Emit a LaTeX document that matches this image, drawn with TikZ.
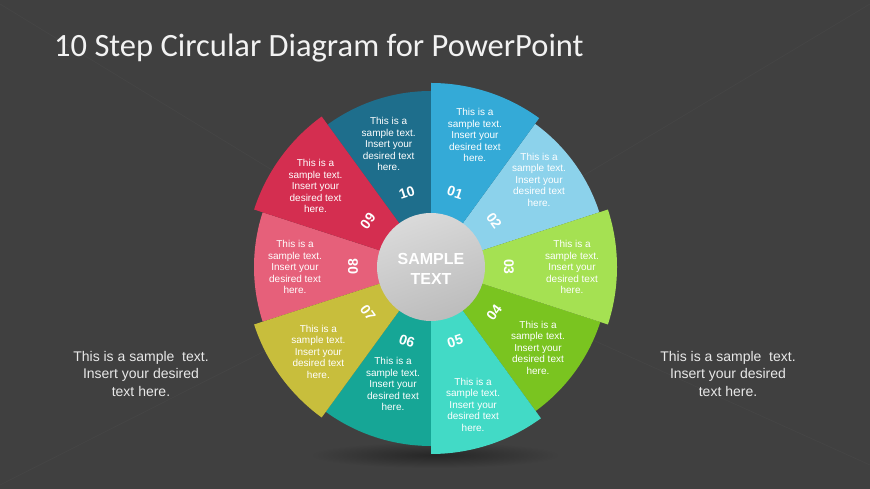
\documentclass[tikz,border=0pt]{standalone}
\usepackage{fontspec}
\setmainfont{Liberation Sans}
\newfontfamily\titlefont{Carlito}
\usetikzlibrary{calc}
\definecolor{bg}{RGB}{64,64,64}
\definecolor{ray}{RGB}{70,70,70}
\definecolor{sc1}{RGB}{52,170,215}
\definecolor{sc2}{RGB}{140,210,235}
\definecolor{sc3}{RGB}{165,225,82}
\definecolor{sc4}{RGB}{122,196,32}
\definecolor{sc5}{RGB}{66,218,198}
\definecolor{sc6}{RGB}{22,166,150}
\definecolor{sc7}{RGB}{200,190,60}
\definecolor{sc8}{RGB}{230,96,122}
\definecolor{sc9}{RGB}{212,46,80}
\definecolor{sc10}{RGB}{30,110,140}
\definecolor{txt}{RGB}{232,232,232}
\tikzset{
  segtext/.style={text=white, align=center, font=\fontsize{10}{11.5}\selectfont, inner sep=0pt},
  numtext/.style={text=white, font=\fontsize{14}{14}\selectfont\bfseries, inner sep=0pt},
  sidetext/.style={text=txt, align=center, font=\fontsize{14}{17.5}\selectfont, inner sep=0pt},
  raystyle/.style={draw=ray, line width=0.6pt}
}
\begin{document}
\begin{tikzpicture}[x=1pt,y=1pt]
\fill[bg] (0,0) rectangle (870,489);
\useasboundingbox (0,0) rectangle (870,489);
\coordinate (C) at (431,222);
% faint rays
\coordinate (r1) at (0,485);
\coordinate (r2) at (870,485);
\coordinate (r3) at (0,4);
\coordinate (r4) at (870,24);
\draw[raystyle] (C) -- (r1);
\draw[raystyle] (C) -- (r2);
\draw[raystyle] (C) -- (r3);
\draw[raystyle] (C) -- (r4);
% shadow under wheel
\shade[inner color=black!85, outer color=bg] (435,34) ellipse [x radius=125, y radius=13];
% segments: even first, then odd on top
\foreach \k/\a/\b/\r in {2/54/18/177, 4/-18/-54/178, 6/-90/-126/179, 8/-162/-198/177, 10/126/90/176,
                         1/90/54/184, 3/18/-18/186, 5/-54/-90/187, 7/-126/-162/186, 9/162/126/186}{
  \fill[sc\k] (C) -- ++(\a:\r) arc[start angle=\a, end angle=\b, radius=\r] -- cycle;
}
% segment texts
\foreach \k/\ang/\rr in {1/71.6/139, 2/39/139, 3/0/141, 4/-37/134, 5/-73/144,
                         6/-108/123, 7/-143/141, 8/180/136, 9/145/141, 10/109/130}{
  \node[segtext] (t\k) at ($(C)+(\ang:\rr)$) {This is a\\sample text.\\Insert your\\desired text\\here.};
}
% numbers
\foreach \k/\lab/\ang/\rot in {1/01/72/-18, 2/02/36/-54, 3/03/0/-90, 4/04/-36/54, 5/05/-72/18,
                               6/06/-108/-18, 7/07/-144/-54, 8/08/180/90, 9/09/144/54, 10/10/108/18}{
  \node[numtext, rotate=\rot] (n\k) at ($(C)+(\ang:78)$) {\lab};
}
% center circle
\shade[top color={rgb,255:red,218;green,218;blue,218}, bottom color={rgb,255:red,188;green,188;blue,188}, shading angle=20]
  (C) circle [radius=54];
\node[text=white, align=center, font=\fontsize{16}{20}\selectfont\bfseries, inner sep=0pt] (ctr) at ($(C)+(0,-2)$) {SAMPLE\\TEXT};
% title
\node[anchor=base west, text={rgb,255:red,242;green,242;blue,242}, font=\titlefont\fontsize{32.5}{36}\selectfont, inner sep=0pt] (title) at (54,432) {10 Step Circular Diagram for PowerPoint};
% side texts
\node[sidetext] (left) at (141,115) {This is a sample\ \ text.\\Insert your desired\\text here.};
\node[sidetext] (right) at (728,115) {This is a sample\ \ text.\\Insert your desired\\text here.};
\end{tikzpicture}
\end{document}
